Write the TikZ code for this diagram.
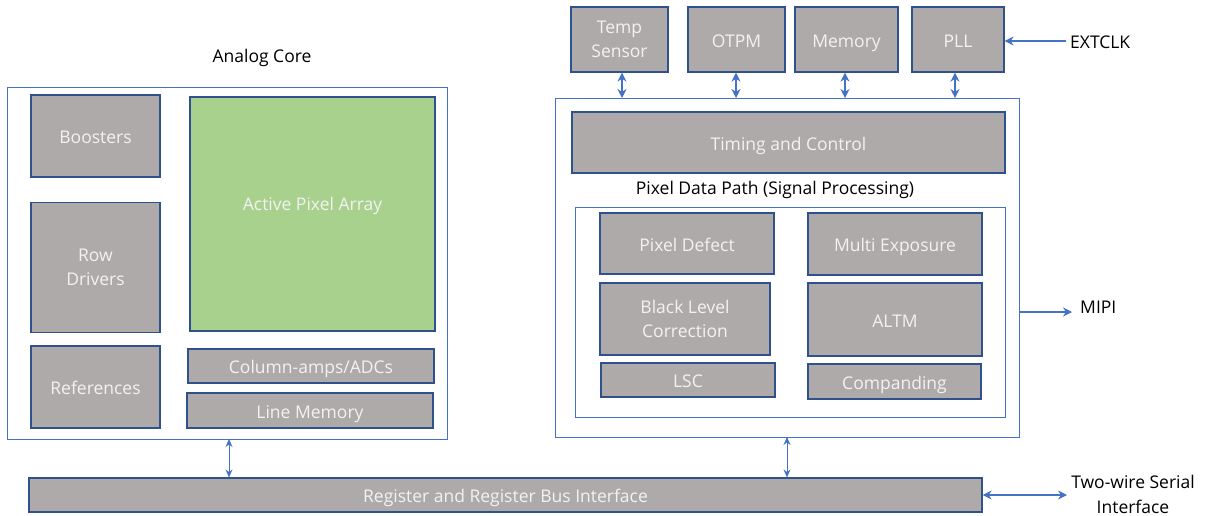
\documentclass[tikz,border=0pt]{standalone}
\usepackage{fontspec}
\setmainfont{Open Sans}
\usetikzlibrary{arrows.meta}
\definecolor{boxgray}{HTML}{AEAAAA}
\definecolor{boxedge}{HTML}{2F528F}
\definecolor{linkblue}{HTML}{4472C4}
\definecolor{pixgreen}{HTML}{A9D18E}
\definecolor{txtwhite}{HTML}{F2F2F2}
\begin{document}
\begin{tikzpicture}[x=1pt,y=-1pt,
  blockbox/.style={draw=boxedge,line width=1.2pt,fill=boxgray,text=txtwhite,font=\fontsize{17.5}{24}\selectfont,align=center,inner sep=0pt},
  onelinebox/.style={blockbox,text height=15pt,text depth=0pt},
  framebox/.style={draw=linkblue,line width=1pt},
  lbl/.style={font=\fontsize{17.5}{25}\selectfont,text=black,align=center,inner sep=0pt},
  onelbl/.style={lbl,text height=15pt,text depth=0pt},
  link/.style={draw=linkblue,line width=1.4pt,{Stealth[length=9pt,width=9pt]}-{Stealth[length=9pt,width=9pt]}},
  thinlink/.style={draw=linkblue,line width=0.9pt,{Stealth[length=8pt,width=7pt]}-{Stealth[length=8pt,width=7pt]}},
  onelink/.style={draw=linkblue,line width=1.2pt,-{Stealth[length=9pt,width=9pt]}}]
\path[use as bounding box,fill=white] (0,0) rectangle (1225,515);

% Analog core
\node[onelbl] (aclbl) at (262,55) {Analog Core};
\draw[framebox] (7,87) rectangle (447,439);
\coordinate (acbot) at (229,439);
\node[onelinebox,minimum width=129pt,minimum height=82pt] (boost) at (95.5,136) {Boosters};
\node[blockbox,minimum width=129pt,minimum height=130pt] (rowdrv) at (95.5,267.5) {Row\\Drivers};
\node[onelinebox,minimum width=129pt,minimum height=82pt] (refs) at (95.5,387) {References};
\draw[draw=boxedge,line width=1.2pt,fill=pixgreen] (190,97) rectangle (435,331);
\node[font=\fontsize{17.5}{24}\selectfont,text=txtwhite,text height=15pt,text depth=0pt] (apa) at (312.5,203) {Active Pixel Array};
\node[onelinebox,minimum width=246pt,minimum height=34pt] (colamp) at (311,366) {Column-amps/ADCs};
\node[onelinebox,minimum width=246pt,minimum height=35pt] (linemem) at (310,410.5) {Line Memory};

% Top peripheral blocks
\node[blockbox,minimum width=97pt,minimum height=65pt,text depth=-1.5pt] (temp) at (619.5,39.5) {Temp\\Sensor};
\node[onelinebox,minimum width=97pt,minimum height=65pt] (otpm) at (736.5,39.5) {OTPM};
\node[onelinebox,minimum width=103pt,minimum height=65pt] (mem) at (846.5,39.5) {Memory};
\node[onelinebox,minimum width=92pt,minimum height=65pt] (pll) at (958,39.5) {PLL};
\node[onelbl,anchor=west] (extclk) at (1070,41) {EXTCLK};
\draw[onelink] (extclk.west) ++(-4,0) coordinate (extend) -- (pll.east |- extend);

% Digital frame
\draw[framebox] (555,98) rectangle (1019,437);
\coordinate (dtop1) at (622,98);
\coordinate (dtop2) at (736,98);
\coordinate (dtop3) at (845,98);
\coordinate (dtop4) at (955,98);
\coordinate (dbot) at (787,437);
\node[onelinebox,minimum width=433pt,minimum height=61pt] (timing) at (788.5,142.5) {Timing and Control};
\node[onelbl] (pdplbl) at (775,187) {Pixel Data Path (Signal Processing)};
\draw[framebox] (575,207) rectangle (1005,417);
\node[onelinebox,minimum width=174pt,minimum height=61pt] (pdef) at (687,243.5) {Pixel Defect};
\node[onelinebox,minimum width=174pt,minimum height=62pt] (mexp) at (895,244) {Multi Exposure};
\node[blockbox,minimum width=170pt,minimum height=72pt] (blc) at (685,319) {Black Level\\Correction};
\node[onelinebox,minimum width=174pt,minimum height=73pt] (altm) at (895,319.5) {ALTM};
\node[onelinebox,minimum width=174pt,minimum height=34pt] (lsc) at (688,380) {LSC};
\node[onelinebox,minimum width=173pt,minimum height=35pt] (comp) at (894.5,381.5) {Companding};

% MIPI
\node[onelbl,anchor=west] (mipi) at (1080,306) {MIPI};
\coordinate (mipistart) at (1019,312);
\draw[onelink] (mipistart) -- (1072,312);

% Register bus
\node[onelinebox,minimum width=953pt,minimum height=34pt] (regbus) at (505.5,495) {Register and Register Bus Interface};
\node[lbl,font=\fontsize{17.5}{25}\selectfont] (twowire) at (1133,494) {Two-wire Serial\\Interface};

% connectors
\draw[link] (temp.south -| dtop1) -- (dtop1);
\draw[link] (otpm.south -| dtop2) -- (dtop2);
\draw[link] (mem.south -| dtop3) -- (dtop3);
\draw[link] (pll.south -| dtop4) -- (dtop4);
\draw[thinlink] (acbot) -- (regbus.north -| acbot);
\draw[thinlink] (dbot) -- (regbus.north -| dbot);
\draw[link] (regbus.east) -- (1067,495);
\end{tikzpicture}
\end{document}
